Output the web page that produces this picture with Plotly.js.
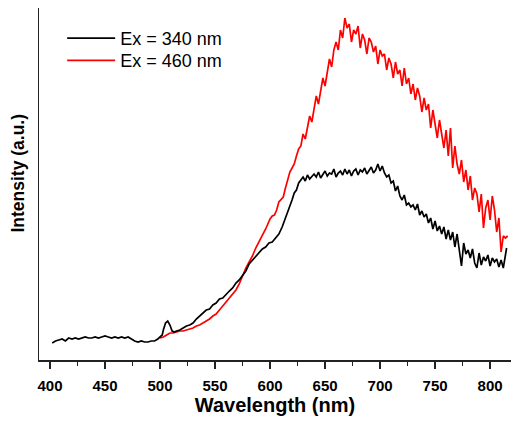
<!DOCTYPE html>
<html>
<head>
<meta charset="utf-8">
<script src="https://cdn.plot.ly/plotly-3.0.1.min.js"></script>
<style>html,body{margin:0;padding:0;background:#fff;}#chart{width:511px;height:421px;}</style>
</head>
<body>
<div id="chart"></div>
<script>
// Ex = 340 nm (black)
const wl340 = [402,405,408,411,414,417,420,423,426,429,432,435,438,441,444,447,450,453,456,459,462,465,468,471,474,477,480,483,486,489,492,495,498,500,
502,503,505,507,509,511,513,515,518,
521,524,527,530,533,536,539,542,545,548,551,554,557,560,563,566,569,572,575,578,581,584,587,590,593,596,599,602,605,608,611,614,617,
620,622,624,626,628,630,632,634,636,638,640,642,644,646,648,650,652,654,656,658,660,662,664,666,668,670,672,674,676,678,680,682,684,686,688,690,692,694,696,698,700,702,704,706,708,710,712,714,716,718,720,722,724,726,728,730,732,734,736,738,740,742,744,746,748,750,752,754,756,758,760,762,764,766,768,770,772,774,776,778,780,782,784,786,788,790,792,794,796,798,800,802,804,806,808,810,812,814,815];
const int340 = [17,19,20,21,19,22,21,22,21,22,23,22,22,23,22,23,24,23,22,23,22,23,22,23,21,19,18,19,18,18,19,19,21,23,
25,30,37,39,35,29,28,29,30,
32,34,35,37,41,44,46,50,51,55,57,61,62,66,69,72,77,80,85,89,96,100,103,108,111,113,117,118,122,126,133,143,151,
160,167,170,177,180,183,179,185,181,184,186,183,188,182,185,189,184,187,186,191,183,187,189,185,191,186,190,184,189,191,185,190,188,192,186,189,193,187,190,196,189,194,187,183,185,177,179,169,174,164,160,165,155,157,153,155,150,156,145,149,143,146,137,142,131,139,129,134,126,133,121,130,120,128,113,126,111,94,117,106,110,102,111,97,92,107,95,103,99,105,94,102,98,101,93,100,92,106,112];
// Ex = 460 nm (red)
const wl460 = [500,503,506,509,512,515,518,521,524,527,530,533,536,539,542,545,548,551,554,557,560,563,566,569,572,575,578,581,584,587,590,593,596,
600,602,604,606,608,610,612,614,616,618,620,622,624,626,628,630,632,634,636,638,640,642,644,646,648,650,652,654,656,658,660,662,664,666,668,670,672,674,676,678,680,682,684,686,688,690,692,694,696,698,700,702,704,706,708,710,712,714,716,718,720,722,724,726,728,730,732,734,736,738,740,742,744,746,748,750,752,754,756,758,760,762,764,766,768,770,772,774,776,778,780,782,784,786,788,790,792,794,796,798,800,802,804,806,808,810,812,814,816];
const int460 = [22,23,25,27,27,28,29,29,30,31,32,34,35,37,39,41,44,46,50,54,59,63,66,70,76,84,92,98,104,112,118,125,131,
141,144,145,150,158,161,163,172,180,188,192,196,204,211,214,226,221,233,244,238,250,264,256,268,282,274,290,301,293,310,318,310,330,322,342,332,336,318,330,326,334,312,326,320,306,322,318,308,314,296,310,304,306,290,302,296,282,298,286,290,274,292,276,282,266,276,260,272,264,248,262,250,256,232,250,238,222,240,226,212,230,204,232,192,214,196,186,200,178,190,170,184,160,172,166,148,166,132,152,160,140,164,150,128,142,108,124,122,124];

const xTicks = [400,450,500,550,600,650,700,750,800];
const seriesNames = ["Ex = 340 nm", "Ex = 460 nm"];

const traces = [
  {x: wl460, y: int460, name: seriesNames[1], type: 'scatter', mode: 'lines', line: {color: '#ff0000', width: 1.7}, legend: 'legend2'},
  {x: wl340, y: int340, name: seriesNames[0], type: 'scatter', mode: 'lines', line: {color: '#000000', width: 1.7}, legend: 'legend'}
];

const fontFam = '"Liberation Sans", Arial, sans-serif';
const legendCommon = {xanchor: 'left', yanchor: 'top', font: {family: fontFam, size: 18, color: '#000'},
                      bgcolor: 'rgba(0,0,0,0)', itemwidth: 48};
const layout = {
  width: 511, height: 421,
  margin: {l: 39, r: 0, t: 8, b: 61},
  paper_bgcolor: '#ffffff', plot_bgcolor: '#ffffff',
  showlegend: true,
  legend: Object.assign({x: 0.049, y: 0.966}, legendCommon),
  legend2: Object.assign({x: 0.049, y: 0.903}, legendCommon),
  xaxis: {
    range: [390, 819], tickvals: xTicks, ticktext: xTicks.map(String),
    ticks: 'outside', ticklen: 7, tickwidth: 1.5, tickcolor: '#222', ticklabelstandoff: 4,
    minor: {dtick: 25, tick0: 400, ticks: 'outside', ticklen: 4, tickwidth: 1.5, tickcolor: '#222'},
    showline: true, linewidth: 1.5, linecolor: '#222', showgrid: false, zeroline: false,
    tickfont: {family: fontFam, size: 15, weight: 'bold', color: '#000'},
    title: {text: 'Wavelength (nm)', font: {family: fontFam, size: 20, weight: 'bold', color: '#000'}, standoff: 4}
  },
  yaxis: {
    range: [0, 352], showline: true, linewidth: 1.5, linecolor: '#222',
    showticklabels: false, ticks: '', showgrid: false, zeroline: false, automargin: false
  },
  annotations: [{
    text: 'Intensity (a.u.)', xref: 'paper', yref: 'paper', x: 0, y: 0.531, xshift: -20.5,
    xanchor: 'center', yanchor: 'middle', textangle: -90, showarrow: false,
    font: {family: fontFam, size: 17.5, weight: 'bold', color: '#000'}
  }]
};
Plotly.newPlot('chart', traces, layout, {displayModeBar: false, staticPlot: true});
</script>
</body>
</html>
